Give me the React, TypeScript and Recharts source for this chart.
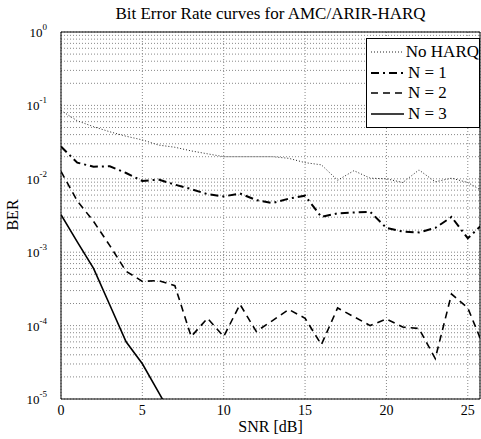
import { LineChart, Line, XAxis, YAxis, CartesianGrid, ReferenceLine } from 'recharts';

// SNR values (dB)
const snr = [0, 1, 2, 3, 4, 5, 6, 7, 8, 9, 10, 11, 12, 13, 14, 15, 16, 17, 18, 19, 20, 21, 22, 23, 24, 25, 26];

// BER
const noHarq = [0.085, 0.0617, 0.0513, 0.0437, 0.038, 0.0339, 0.0288, 0.0269, 0.024, 0.0219, 0.02, 0.02, 0.02, 0.02, 0.019, 0.0166, 0.0155, 0.00955, 0.0129, 0.0102, 0.01, 0.0089, 0.0132, 0.0091, 0.0102, 0.0089, 0.0066];
const n1 = [0.0275, 0.0166, 0.0146, 0.0148, 0.012, 0.00933, 0.00977, 0.00832, 0.00724, 0.00617, 0.00575, 0.00631, 0.00513, 0.00468, 0.00537, 0.00589, 0.00302, 0.00339, 0.00347, 0.00355, 0.00214, 0.00191, 0.00186, 0.00214, 0.00302, 0.00155, 0.00251];
const n2 = [0.0126, 0.005, 0.00263, 0.00123, 0.00055, 0.0004, 0.00041, 0.00035, 0.0000708, 0.000126, 0.0000708, 0.000195, 0.0000832, 0.000117, 0.000166, 0.000126, 0.000055, 0.000174, 0.000132, 0.0001, 0.000123, 0.0000955, 0.0000912, 0.0000355, 0.000269, 0.000174, 0.00005];
const n3 = [0.00324, 0.00138, 0.000603, 0.000191, 0.0000603, 0.0000302, 0.0000123, 0.000005, null, null, null, null, null, null, null, null, null, null, null, null, null, null, null, null, null, null, null];

const xTicks = [0, 5, 10, 15, 20, 25];
const decades = [0.00001, 0.0001, 0.001, 0.01, 0.1];
const minorSteps = [1, 2, 3, 4, 5, 6, 7, 8, 9];
const yTicks = [...decades.flatMap(d => minorSteps.map(m => Number((m * d).toPrecision(3)))), 1];

const series = [
    { key: 'noHarq', name: 'No HARQ', width: 1, dash: '1 2', color: '#222' },
    { key: 'n1', name: 'N = 1', width: 2, dash: '8 4 2 4', color: '#000' },
    { key: 'n2', name: 'N = 2', width: 1.6, dash: '7 5', color: '#000' },
    { key: 'n3', name: 'N = 3', width: 1.6, dash: undefined as string | undefined, color: '#000' },
];

const data = snr.map((s, i) => ({ snr: s, noHarq: noHarq[i], n1: n1[i], n2: n2[i], n3: n3[i] }));

const font = '"Liberation Serif", "Times New Roman", serif';

function YTick(props: any) {
    const { x, y, payload } = props;
    const e = Math.log10(payload.value);
    if (Math.abs(e - Math.round(e)) > 1e-6) return <g />;
    return (
        <text x={x - 6} y={y + 5} textAnchor="end" fontFamily={font} fontSize={13} fill="#000">
            10<tspan fontSize={9} dy={-7}>{Math.round(e)}</tspan>
        </text>
    );
}

function XTick(props: any) {
    const { x, y, payload } = props;
    return (
        <text x={x} y={y + 8} textAnchor="middle" fontFamily={font} fontSize={14} fill="#000">
            {payload.value}
        </text>
    );
}

function LegendBox() {
    return (
        <div style={{ position: 'absolute', left: 366, top: 38, border: '1px solid #000', background: '#fff', width: 114, padding: '3px 0', boxSizing: 'border-box' }}>
            {series.map(s => (
                <div key={s.key} style={{ display: 'flex', alignItems: 'center', height: 20.5 }}>
                    <svg width={37} height={10} style={{ marginLeft: 4 }}>
                        <line x1={0} y1={5} x2={33} y2={5} stroke={s.color} strokeWidth={s.width} strokeDasharray={s.dash} />
                    </svg>
                    <span style={{ fontFamily: font, fontSize: 17, color: '#000', whiteSpace: 'nowrap' }}>{s.name}</span>
                </div>
            ))}
        </div>
    );
}

export default function App() {
    return (
        <div style={{ position: 'absolute', left: 0, top: 0, width: 481, height: 439, background: '#fff', fontFamily: font }}>
            <div style={{ position: 'absolute', left: 61, width: 419, top: 4, textAlign: 'center', fontSize: 17, color: '#000' }}>
                Bit Error Rate curves for AMC/ARIR-HARQ
            </div>
            <div style={{ position: 'absolute', left: 61, width: 419, top: 418, textAlign: 'center', fontSize: 16, color: '#000' }}>
                SNR [dB]
            </div>
            <div style={{ position: 'absolute', left: 13, top: 215, transform: 'translate(-50%, -50%) rotate(-90deg)', fontSize: 16, color: '#000' }}>
                BER
            </div>
            <LineChart width={481} height={439} data={data} margin={{ top: 32, right: 1, left: 0, bottom: 15 }}>
                <CartesianGrid stroke="#888" strokeDasharray="1 2" horizontal vertical />
                <XAxis
                    dataKey="snr"
                    type="number"
                    domain={[0, 25.75]}
                    allowDataOverflow
                    ticks={xTicks}
                    height={25}
                    tickLine={false}
                    axisLine={{ stroke: '#000' }}
                    tick={<XTick />}
                />
                <YAxis
                    scale="log"
                    domain={[0.00001, 1]}
                    allowDataOverflow
                    ticks={yTicks}
                    interval={0}
                    width={61}
                    tickLine={false}
                    axisLine={{ stroke: '#000' }}
                    tick={<YTick />}
                />
                <ReferenceLine y={1} stroke="#000" />
                <ReferenceLine x={25.75} stroke="#000" />
                {series.map(s => (
                    <Line
                        key={s.key}
                        type="linear"
                        dataKey={s.key}
                        name={s.name}
                        stroke={s.color}
                        strokeWidth={s.width}
                        strokeDasharray={s.dash}
                        dot={false}
                        activeDot={false}
                        isAnimationActive={false}
                    />
                ))}
            </LineChart>
            <LegendBox />
        </div>
    );
}
